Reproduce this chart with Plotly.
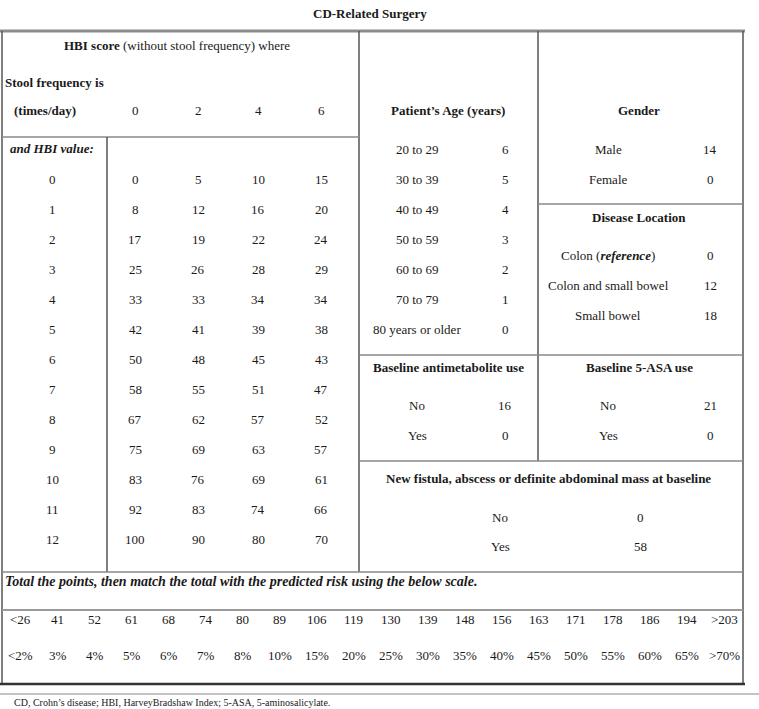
import plotly.graph_objects as go

# ---------------- data ----------------
title = "CD-Related Surgery"
stool_freq = [0, 2, 4, 6]
hbi_values = [0, 1, 2, 3, 4, 5, 6, 7, 8, 9, 10, 11, 12]
hbi_points = [
    [0, 5, 10, 15],
    [8, 12, 16, 20],
    [17, 19, 22, 24],
    [25, 26, 28, 29],
    [33, 33, 34, 34],
    [42, 41, 39, 38],
    [50, 48, 45, 43],
    [58, 55, 51, 47],
    [67, 62, 57, 52],
    [75, 69, 63, 57],
    [83, 76, 69, 61],
    [92, 83, 74, 66],
    [100, 90, 80, 70],
]
age_groups = ["20 to 29", "30 to 39", "40 to 49", "50 to 59", "60 to 69", "70 to 79", "80 years or older"]
age_points = [6, 5, 4, 3, 2, 1, 0]
gender_labels = ["Male", "Female"]
gender_points = [14, 0]
location_labels = ["Colon (<b><i>reference</i></b>)", "Colon and small bowel", "Small bowel"]
location_points = [0, 12, 18]
antimet_labels = ["No", "Yes"]
antimet_points = [16, 0]
asa_labels = ["No", "Yes"]
asa_points = [21, 0]
fistula_labels = ["No", "Yes"]
fistula_points = [0, 58]
scale_points = ["<26", "41", "52", "61", "68", "74", "80", "89", "106", "119",
                "130", "139", "148", "156", "163", "171", "178", "186", "194", ">203"]
scale_risk = ["<2%", "3%", "4%", "5%", "6%", "7%", "8%", "10%", "15%", "20%",
              "25%", "30%", "35%", "40%", "45%", "50%", "55%", "60%", "65%", ">70%"]
footnote = "CD, Crohn’s disease; HBI, HarveyBradshaw Index; 5-ASA, 5-aminosalicylate."

# ---------------- layout helpers ----------------
W, H = 759, 709
FONT = "Liberation Serif, Times New Roman, serif"
TXT = "#1a1a1a"
fig = go.Figure()
ann = []
shapes = []


def txt(x, y, s, anchor="center", size=13):
    ann.append(dict(x=x, y=y, xref="x", yref="y", text=s, showarrow=False,
                    xanchor=anchor, yanchor="middle",
                    font=dict(family=FONT, size=size, color=TXT)))


def line(x0, y0, x1, y1, color="#666", width=1.5):
    shapes.append(dict(type="line", x0=x0, y0=y0, x1=x1, y1=y1, xref="x", yref="y",
                       line=dict(color=color, width=width)))


# grid lines
L, R = 2, 743
line(0, 31, 745, 31, "#8c8c8c", 3)          # top rule
line(L, 31, L, 684, "#555", 1.5)            # left border
line(R, 31, R, 684, "#555", 1.5)            # right border
line(359, 31, 359, 572, "#555", 1.5)
line(538, 31, 538, 461, "#555", 1.5)
line(L, 137, 359, 137, "#888", 1.5)
line(107, 137, 107, 572, "#555", 1.5)
line(538, 204, R, 204, "#888", 1.5)
line(359, 355, R, 355, "#888", 1.5)
line(359, 461, R, 461, "#888", 1.5)
line(L, 572, R, 572, "#888", 1.5)
line(L, 610, R, 610, "#999", 2)
line(0, 684, 745, 684, "#333", 2.5)        # bottom rule
line(0, 694, 759, 694, "#888", 1)          # footnote rule

# title
txt(370, 13, "<b>" + title + "</b>")

# HBI block
txt(177, 45, "<b>HBI score</b> (without stool frequency) where")
txt(3, 82, "<b>Stool frequency is</b>", anchor="left")
txt(45, 110, "<b>(times/day)</b>")
col_x = [135, 198, 258, 321]
for cx, sf in zip(col_x, stool_freq):
    txt(cx, 110, str(sf))
txt(52, 148, "<b><i>and HBI value:</i></b>")
for i, (hv, row) in enumerate(zip(hbi_values, hbi_points)):
    y = 179 + 30 * i
    txt(52, y, str(hv))
    for cx, v in zip(col_x, row):
        txt(cx, y, str(v))

# Age block
txt(448, 110, "<b>Patient’s Age (years)</b>")
for i, (a, p) in enumerate(zip(age_groups, age_points)):
    y = 149 + 30 * i
    txt(417, y, a)
    txt(505, y, str(p))

# Gender block
txt(639, 110, "<b>Gender</b>")
for i, (g, p) in enumerate(zip(gender_labels, gender_points)):
    y = 149 + 30 * i
    txt(608, y, g)
    txt(710, y, str(p))

# Disease location
txt(639, 217, "<b>Disease Location</b>")
for i, (g, p) in enumerate(zip(location_labels, location_points)):
    y = 255 + 30 * i
    txt(608, y, g)
    txt(710, y, str(p))

# Antimetabolite
txt(448, 367, "<b>Baseline antimetabolite use</b>")
for i, (g, p) in enumerate(zip(antimet_labels, antimet_points)):
    y = 405 + 30 * i
    txt(417, y, g)
    txt(505, y, str(p))

# 5-ASA
txt(639, 367, "<b>Baseline 5-ASA use</b>")
for i, (g, p) in enumerate(zip(asa_labels, asa_points)):
    y = 405 + 30 * i
    txt(608, y, g)
    txt(710, y, str(p))

# Fistula
txt(548, 478, "<b>New fistula, abscess or definite abdominal mass at baseline</b>")
for i, (g, p) in enumerate(zip(fistula_labels, fistula_points)):
    y = 517 + 29 * i
    txt(500, y, g)
    txt(640, y, str(p))

# Risk scale
txt(3, 581, "<b><i>Total the points, then match the total with the predicted risk using the below scale.</i></b>",
    anchor="left", size=14)
cw = (R - L) / len(scale_points)
for i, (sp, sr) in enumerate(zip(scale_points, scale_risk)):
    cx = L + cw * (i + 0.5)
    txt(cx, 619, sp.replace("<", "&lt;").replace(">", "&gt;"))
    txt(cx, 655, sr.replace("<", "&lt;").replace(">", "&gt;"))

# footnote
txt(12, 702, footnote, anchor="left", size=10)

fig.update_layout(
    width=W, height=H,
    margin=dict(l=0, r=0, t=0, b=0),
    paper_bgcolor="white", plot_bgcolor="white",
    xaxis=dict(range=[0, W], visible=False, fixedrange=True),
    yaxis=dict(range=[H, 0], visible=False, fixedrange=True),
    annotations=ann, shapes=shapes, showlegend=False,
)
fig.write_html("out.html", config={"displayModeBar": False},
               post_script="document.body.style.margin='0';document.body.style.overflow='hidden';")
